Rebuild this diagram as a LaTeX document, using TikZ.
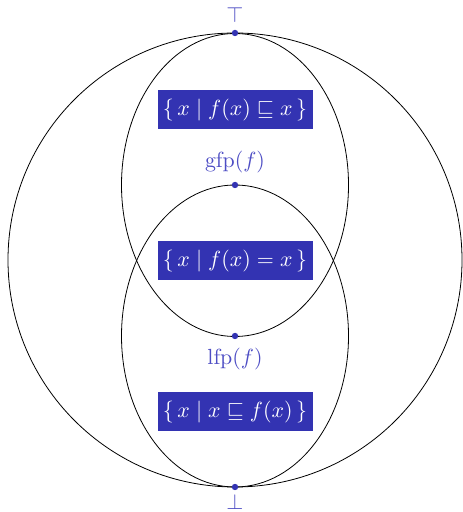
\documentclass[tikz,border=0pt]{standalone}
\usepackage{amssymb}
\usepackage{tikz}
\usetikzlibrary{positioning}
\definecolor{structBlue}{HTML}{3333B2}
\definecolor{labelBlue}{HTML}{4D4DC4}

\begin{document}
\begin{tikzpicture}[x=0.5pt, y=0.5pt, font=\fontsize{11}{13}\selectfont, node distance=2pt,
  pt/.style={circle, fill=structBlue, inner sep=0pt, minimum size=3.2pt},
  lbl/.style={text=labelBlue, inner sep=1pt},
  setbox/.style={fill=structBlue, text=white, minimum width=77.5pt,
    minimum height=19.5pt, inner sep=0pt}]

\useasboundingbox (0,0) rectangle (462,512);

% lattice and the two halves
\draw[thin] (235,252) circle[radius=227];
\draw[thin] (235,327) ellipse[x radius=113.5, y radius=151.5];
\draw[thin] (235,176) ellipse[x radius=113.5, y radius=151];

\node[pt] (top) at (235,479) {};
\node[pt] (gfp) at (235,327) {};
\node[pt] (lfp) at (235,176) {};
\node[pt] (bot) at (235,25) {};

\node[lbl, above=2pt of top] {$\top$};
\node[lbl, above=3pt of gfp] {$\mathrm{gfp}(f)$};
\node[lbl, below=3pt of lfp] {$\mathrm{lfp}(f)$};
\node[lbl, inner sep=0pt, below=1.5pt of bot] {$\bot$};

\node[setbox] (post) at (235,402) {$\{\, x \mid f(x) \sqsubseteq x \,\}$};
\node[setbox] (fix) at (235,251) {$\{\, x \mid f(x) = x \,\}$};
\node[setbox] (pre) at (235,100) {$\{\, x \mid x \sqsubseteq f(x) \,\}$};

\end{tikzpicture}
\end{document}
